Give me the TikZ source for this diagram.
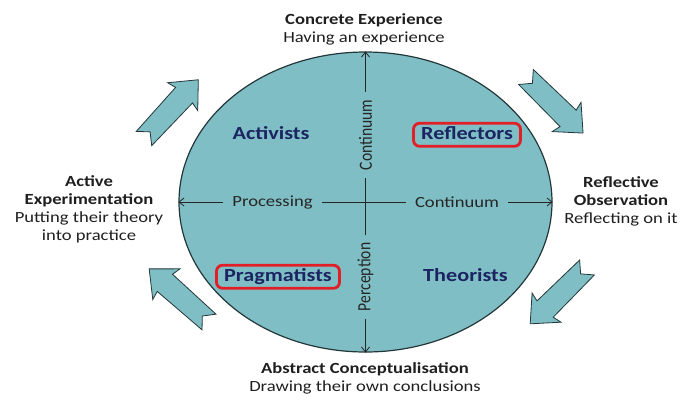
\documentclass[tikz,border=0pt]{standalone}
\usepackage{fontspec}
\setmainfont{Carlito}[FakeStretch=1.2]
\newfontfamily\rotfont{Carlito}[FakeStretch=0.84]
\usetikzlibrary{shapes.geometric,arrows.meta}
\definecolor{cyclefill}{RGB}{126,190,196}
\definecolor{quadnavy}{RGB}{28,36,98}
\definecolor{boxred}{RGB}{226,30,38}
\definecolor{edgecol}{RGB}{35,55,58}
\tikzset{
  outer/.style={align=center, font=\fontsize{15.5}{18}\selectfont, text=black!88, inner sep=0pt},
  quad/.style={font=\fontsize{18.5}{22}\selectfont\bfseries, text=quadnavy, text height=12pt, text depth=3.5pt, inner sep=0pt},
  redbox/.style={draw=boxred, line width=2.8pt, rounded corners=6pt},
  axislabel/.style={fill=cyclefill, font=\fontsize{15.5}{18}\selectfont, text=black!85, inner xsep=9pt, inner ysep=2pt},
  rotlabel/.style={fill=cyclefill, font=\rotfont\fontsize{18.6}{20}\selectfont, text=black!85, inner xsep=8pt, inner ysep=1pt, rotate=90},
  axisline/.style={draw=black!85, line width=0.8pt, {Straight Barb[length=5pt,width=8pt]}-{Straight Barb[length=5pt,width=8pt]}},
  arrowbody/.style={fill=cyclefill, draw=edgecol, line width=0.8pt, line join=miter},
}
\newcommand\blockarrow[2]{%
  \begin{scope}[shift={#1},rotate=#2]
    \filldraw[arrowbody] (0,-10.5) -- (59,-11.5) -- (57,-20.5) -- (80,0) -- (57,20.5) -- (59,11.5) -- (0,10.5) -- (9,0) -- cycle;
  \end{scope}}
\begin{document}
\begin{tikzpicture}[x=1pt,y=-1pt]
\useasboundingbox (0,0) rectangle (700,400);
% cycle arrows
\blockarrow{(144,138.5)}{47.25}
\blockarrow{(526,77)}{-44.5}
\blockarrow{(587,267.5)}{-135.25}
\blockarrow{(209,322)}{138.4}
% main ellipse
\node[ellipse, draw=edgecol, fill=cyclefill, line width=1.2pt, minimum width=373pt, minimum height=300pt, inner sep=0pt] (cyc) at (365.5,202) {};
% axes
\draw[axisline] (cyc.west) -- (cyc.east);
\draw[axisline] (cyc.north) -- (cyc.south);
% axis labels
\node[axislabel] (proc) at (272.5,202) {Processing};
\node[axislabel] (conth) at (457,202) {Continuum};
\node[rotlabel] (contv) at (365.5,135) {Continuum};
\node[rotlabel] (perc) at (365.5,277) {Perception};
% quadrant labels
\node[quad, anchor=base] (act) at (271,139) {Activists};
\node[quad, redbox, anchor=base, minimum width=107pt, minimum height=23pt] (refl) at (467,139) {Reflectors};
\node[quad, redbox, anchor=base, minimum width=123pt, minimum height=23pt] (prag) at (278,281) {Pragmatists};
\node[quad, anchor=base] (theo) at (465.5,281) {Theorists};
% outer labels
\node[outer] (ce) at (364,29.5) {\textbf{Concrete Experience}\\Having an experience};
\node[outer] (acon) at (365,378.5) {\textbf{Abstract Conceptualisation}\\Drawing their own conclusions};
\node[outer] (aexp) at (89,209) {\textbf{Active}\\\textbf{Experimentation}\\Putting their theory\\into practice};
\node[outer] (robs) at (621,201.5) {\textbf{Reflective}\\\textbf{Observation}\\Reflecting on it};
\end{tikzpicture}
\end{document}
